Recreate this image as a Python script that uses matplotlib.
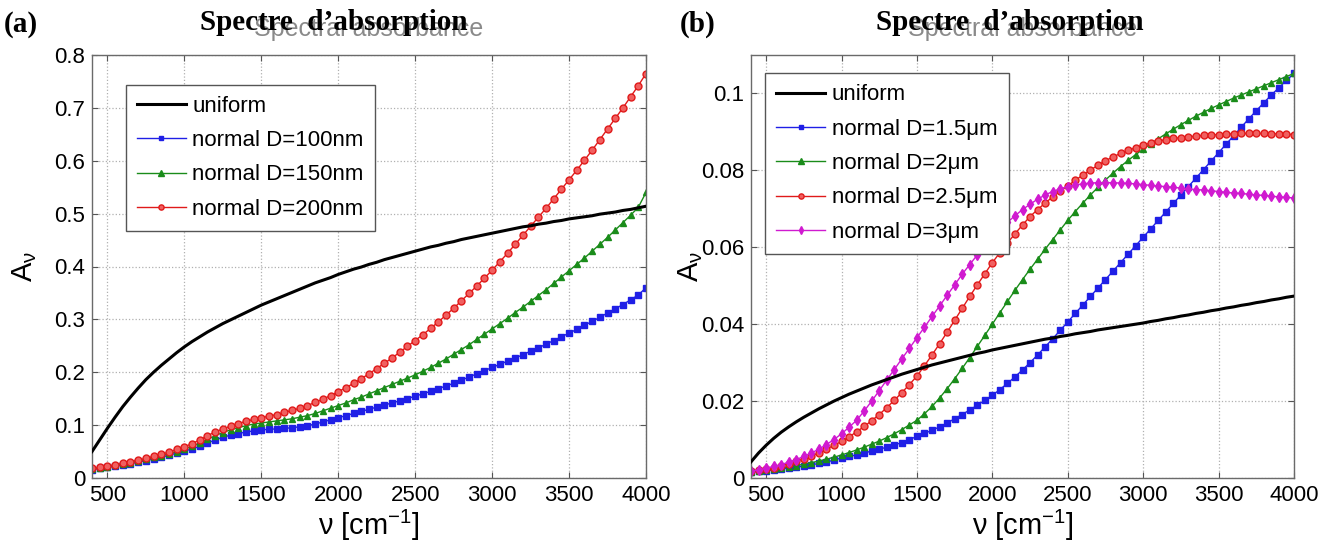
import matplotlib
matplotlib.use("Agg")
import matplotlib.pyplot as plt
import numpy as np

plt.rcParams['font.family'] = ['Liberation Sans', 'DejaVu Sans']
plt.rcParams['mathtext.fontset'] = 'custom'
plt.rcParams['mathtext.rm'] = 'Liberation Sans'
plt.rcParams['mathtext.it'] = 'Liberation Sans'

# ---------------- data ----------------
nu = list(range(400, 4001, 50))

# panel (a)
a_uniform = [0.050, 0.072, 0.094, 0.115, 0.135, 0.153, 0.170, 0.186, 0.200, 0.213,
             0.225, 0.237, 0.248, 0.258, 0.267, 0.276, 0.284, 0.292, 0.299, 0.306,
             0.313, 0.320, 0.327, 0.333, 0.339, 0.345, 0.351, 0.357, 0.363, 0.369,
             0.374, 0.379, 0.385, 0.390, 0.395, 0.399, 0.404, 0.408, 0.413, 0.417,
             0.421, 0.425, 0.429, 0.433, 0.437, 0.440, 0.444, 0.447, 0.451, 0.454,
             0.457, 0.460, 0.463, 0.466, 0.469, 0.472, 0.475, 0.477, 0.480, 0.482,
             0.485, 0.487, 0.490, 0.492, 0.494, 0.496, 0.499, 0.501, 0.503, 0.506,
             0.508, 0.511, 0.514]
a_d100 = [0.016, 0.018, 0.020, 0.022, 0.025, 0.027, 0.030, 0.033, 0.036, 0.039,
          0.043, 0.047, 0.051, 0.055, 0.060, 0.066, 0.072, 0.077, 0.081, 0.084,
          0.087, 0.089, 0.091, 0.092, 0.093, 0.094, 0.095, 0.097, 0.099, 0.102,
          0.106, 0.110, 0.114, 0.118, 0.122, 0.126, 0.130, 0.134, 0.138, 0.142,
          0.146, 0.150, 0.155, 0.159, 0.164, 0.169, 0.174, 0.179, 0.185, 0.191,
          0.197, 0.203, 0.209, 0.215, 0.221, 0.227, 0.233, 0.240, 0.246, 0.253,
          0.260, 0.267, 0.274, 0.281, 0.289, 0.296, 0.304, 0.312, 0.320, 0.328,
          0.337, 0.346, 0.360]
a_d150 = [0.017, 0.019, 0.021, 0.024, 0.026, 0.029, 0.032, 0.035, 0.039, 0.042,
          0.046, 0.050, 0.055, 0.060, 0.066, 0.073, 0.080, 0.086, 0.091, 0.095,
          0.099, 0.102, 0.104, 0.106, 0.108, 0.110, 0.112, 0.115, 0.118, 0.122,
          0.127, 0.132, 0.137, 0.142, 0.148, 0.153, 0.159, 0.165, 0.171, 0.177,
          0.183, 0.189, 0.195, 0.202, 0.209, 0.217, 0.225, 0.234, 0.243, 0.252,
          0.262, 0.272, 0.282, 0.292, 0.302, 0.313, 0.323, 0.334, 0.345, 0.356,
          0.368, 0.380, 0.392, 0.404, 0.416, 0.429, 0.442, 0.455, 0.469, 0.483,
          0.497, 0.512, 0.540]
a_d200 = [0.018, 0.020, 0.022, 0.025, 0.028, 0.031, 0.034, 0.037, 0.041, 0.045,
          0.049, 0.054, 0.059, 0.065, 0.072, 0.080, 0.087, 0.093, 0.098, 0.103,
          0.107, 0.111, 0.114, 0.117, 0.120, 0.124, 0.128, 0.132, 0.137, 0.143,
          0.149, 0.156, 0.163, 0.171, 0.179, 0.188, 0.197, 0.207, 0.217, 0.227,
          0.238, 0.249, 0.260, 0.271, 0.283, 0.295, 0.308, 0.321, 0.335, 0.349,
          0.363, 0.378, 0.393, 0.409, 0.425, 0.442, 0.459, 0.476, 0.493, 0.510,
          0.528, 0.546, 0.564, 0.582, 0.601, 0.620, 0.640, 0.660, 0.680, 0.700,
          0.721, 0.742, 0.765]

# panel (b)
b_uniform = [0.0042, 0.0065, 0.0085, 0.0103, 0.0119, 0.0133, 0.0146, 0.0158, 0.0169, 0.0180,
             0.0190, 0.0200, 0.0209, 0.0218, 0.0226, 0.0234, 0.0242, 0.0249, 0.0256, 0.0263,
             0.0270, 0.0276, 0.0282, 0.0288, 0.0294, 0.0299, 0.0304, 0.0309, 0.0314, 0.0319,
             0.0324, 0.0328, 0.0333, 0.0337, 0.0341, 0.0345, 0.0349, 0.0353, 0.0357, 0.0361,
             0.0364, 0.0368, 0.0371, 0.0375, 0.0378, 0.0381, 0.0385, 0.0388, 0.0391, 0.0394,
             0.0397, 0.0400, 0.0403, 0.0407, 0.0410, 0.0414, 0.0417, 0.0421, 0.0424, 0.0428,
             0.0431, 0.0435, 0.0438, 0.0442, 0.0445, 0.0449, 0.0452, 0.0456, 0.0459, 0.0463,
             0.0466, 0.0470, 0.0473]
b_d15 = [0.0015, 0.0017, 0.0019, 0.0021, 0.0023, 0.0026, 0.0028, 0.0031, 0.0034, 0.0038,
         0.0041, 0.0047, 0.0052, 0.0056, 0.0060, 0.0065, 0.0070, 0.0075, 0.0080, 0.0086,
         0.0092, 0.0100, 0.0108, 0.0116, 0.0124, 0.0133, 0.0143, 0.0154, 0.0165, 0.0177,
         0.0189, 0.0202, 0.0215, 0.0230, 0.0246, 0.0263, 0.0281, 0.0300, 0.0320, 0.0341,
         0.0362, 0.0384, 0.0406, 0.0428, 0.0450, 0.0472, 0.0494, 0.0516, 0.0538, 0.0560,
         0.0582, 0.0604, 0.0626, 0.0648, 0.0670, 0.0692, 0.0714, 0.0736, 0.0758, 0.0780,
         0.0802, 0.0824, 0.0846, 0.0868, 0.0890, 0.0912, 0.0934, 0.0955, 0.0976, 0.0996,
         0.1015, 0.1034, 0.1052]
b_d2 = [0.0016, 0.0018, 0.0020, 0.0023, 0.0026, 0.0029, 0.0032, 0.0036, 0.0040, 0.0044,
        0.0049, 0.0054, 0.0060, 0.0066, 0.0073, 0.0080, 0.0088, 0.0096, 0.0105, 0.0115,
        0.0126, 0.0138, 0.0150, 0.0167, 0.0186, 0.0208, 0.0232, 0.0258, 0.0285, 0.0313,
        0.0342, 0.0371, 0.0400, 0.0430, 0.0459, 0.0488, 0.0516, 0.0543, 0.0569, 0.0595,
        0.0620, 0.0645, 0.0670, 0.0693, 0.0715, 0.0736, 0.0756, 0.0775, 0.0793, 0.0810,
        0.0826, 0.0841, 0.0855, 0.0869, 0.0882, 0.0895, 0.0907, 0.0919, 0.0930, 0.0941,
        0.0951, 0.0961, 0.0970, 0.0979, 0.0988, 0.0996, 0.1004, 0.1012, 0.1020, 0.1028,
        0.1036, 0.1044, 0.1052]
b_d25 = [0.0017, 0.0020, 0.0023, 0.0027, 0.0032, 0.0037, 0.0043, 0.0050, 0.0057, 0.0066,
         0.0075, 0.0085, 0.0095, 0.0107, 0.0120, 0.0134, 0.0149, 0.0165, 0.0183, 0.0202,
         0.0222, 0.0243, 0.0265, 0.0292, 0.0320, 0.0349, 0.0379, 0.0410, 0.0441, 0.0472,
         0.0502, 0.0531, 0.0560, 0.0586, 0.0611, 0.0635, 0.0658, 0.0680, 0.0698, 0.0715,
         0.0731, 0.0746, 0.0760, 0.0774, 0.0788, 0.0801, 0.0813, 0.0825, 0.0835, 0.0844,
         0.0852, 0.0859, 0.0866, 0.0871, 0.0876, 0.0880, 0.0883, 0.0885, 0.0887, 0.0889,
         0.0891, 0.0892, 0.0893, 0.0894, 0.0895, 0.0896, 0.0896, 0.0896, 0.0896, 0.0895,
         0.0895, 0.0894, 0.0893]
b_d3 = [0.0018, 0.0021, 0.0025, 0.0030, 0.0035, 0.0041, 0.0048, 0.0056, 0.0065, 0.0075,
        0.0087, 0.0100, 0.0115, 0.0132, 0.0150, 0.0174, 0.0200, 0.0227, 0.0255, 0.0282,
        0.0310, 0.0337, 0.0365, 0.0392, 0.0420, 0.0447, 0.0475, 0.0502, 0.0530, 0.0555,
        0.0580, 0.0603, 0.0625, 0.0645, 0.0665, 0.0682, 0.0698, 0.0712, 0.0725, 0.0736,
        0.0745, 0.0752, 0.0758, 0.0762, 0.0765, 0.0767, 0.0768, 0.0768, 0.0768, 0.0767,
        0.0766, 0.0765, 0.0763, 0.0761, 0.0759, 0.0758, 0.0756, 0.0754, 0.0752, 0.0750,
        0.0749, 0.0747, 0.0745, 0.0743, 0.0741, 0.0740, 0.0738, 0.0736, 0.0735, 0.0733,
        0.0731, 0.0730, 0.0728]

xticks = [500, 1000, 1500, 2000, 2500, 3000, 3500, 4000]
a_yticks = [0, 0.1, 0.2, 0.3, 0.4, 0.5, 0.6, 0.7, 0.8]
a_yticklabels = ['0', '0.1', '0.2', '0.3', '0.4', '0.5', '0.6', '0.7', '0.8']
b_yticks = [0, 0.02, 0.04, 0.06, 0.08, 0.1]
b_yticklabels = ['0', '0.02', '0.04', '0.06', '0.08', '0.1']

a_labels = ['uniform', 'normal D=100nm', 'normal D=150nm', 'normal D=200nm']
b_labels = ['uniform', 'normal D=1.5\u03bcm', 'normal D=2\u03bcm', 'normal D=2.5\u03bcm', 'normal D=3\u03bcm']

# ---------------- figure ----------------
W, H = 1335, 547
fig = plt.figure(figsize=(W / 100, H / 100), dpi=100)

def px_ax(x0, x1, y0, y1):
    return fig.add_axes([x0 / W, 1 - y1 / H, (x1 - x0) / W, (y1 - y0) / H])

axA = px_ax(92, 646, 55, 478)
axB = px_ax(751, 1294, 55, 478)

blue = '#1f1fe6'
green = '#1a8c1a'
red = '#e01a1a'
mag = '#d01ad0'
ms = 4.6

def style(ax, yt, ytl, ymax):
    ax.set_xlim(400, 4000)
    ax.set_ylim(0, ymax)
    ax.set_xticks(xticks)
    ax.set_yticks(yt)
    ax.set_yticklabels(ytl)
    ax.tick_params(direction='in', top=True, right=True, labelsize=16,
                   length=4, color='#555555', pad=5)
    ax.grid(True, linestyle=':', color='#b0b0b0', linewidth=0.9)
    for s in ax.spines.values():
        s.set_color('#6a6a6a')
        s.set_linewidth(1.0)
    ax.set_xlabel('\u03bd [cm$^{-1}$]', fontsize=21, labelpad=1)
    ax.set_ylabel('A$_{\\nu}$', fontsize=21, labelpad=4)
    ax.set_title('Spectral absorbance', fontsize=18, color='#8a8a8a', pad=14)

# panel a
axA.plot(nu, a_uniform, color='black', lw=2.2, label=a_labels[0], zorder=3)
axA.plot(nu, a_d100, color=blue, lw=1.0, marker='s', ms=ms, mfc=blue, mec=blue, label=a_labels[1])
axA.plot(nu, a_d150, color=green, lw=1.0, marker='^', ms=ms + 0.4, mfc=green, mec=green, label=a_labels[2])
axA.plot(nu, a_d200, color=red, lw=1.0, marker='o', ms=ms + 0.4, mfc='#f06060', mec=red, label=a_labels[3])
style(axA, a_yticks, a_yticklabels, 0.8)
axA.yaxis.set_label_coords(-0.095, 0.5)

# panel b
axB.plot(nu, b_uniform, color='black', lw=2.2, label=b_labels[0], zorder=3)
axB.plot(nu, b_d15, color=blue, lw=1.0, marker='s', ms=ms, mfc=blue, mec=blue, label=b_labels[1])
axB.plot(nu, b_d2, color=green, lw=1.0, marker='^', ms=ms + 0.4, mfc=green, mec=green, label=b_labels[2])
axB.plot(nu, b_d25, color=red, lw=1.0, marker='o', ms=ms + 0.4, mfc='#f06060', mec=red, label=b_labels[3])
axB.plot(nu, b_d3, color=mag, lw=1.0, marker='d', ms=ms + 0.6, mfc=mag, mec=mag, label=b_labels[4])
style(axB, b_yticks, b_yticklabels, 0.11)
axB.yaxis.set_label_coords(-0.085, 0.5)

for ax, anchor in ((axA, (0.061, 0.93)), (axB, (0.026, 0.957))):
    leg = ax.legend(loc='upper left', bbox_to_anchor=anchor, fontsize=16,
                    handlelength=2.2, handletextpad=0.3, borderpad=0.5,
                    labelspacing=0.6, fancybox=False, framealpha=1,
                    borderaxespad=0.0,
                    edgecolor='#555555', markerscale=0.75)
    leg.get_frame().set_linewidth(1.0)
    for h in leg.legend_handles:
        h.set_markevery([1])

# overlaid headings
serif = ['Liberation Serif', 'DejaVu Serif']
fig.text(4 / W, 1 - 24 / H, '(a)', fontsize=21, fontweight='bold', family=serif, va='center', ha='left')
fig.text(334 / W, 1 - 22 / H, 'Spectre  d\u2019absorption', fontsize=21, fontweight='bold', family=serif,
         va='center', ha='center')
fig.text(680 / W, 1 - 24 / H, '(b)', fontsize=21, fontweight='bold', family=serif, va='center', ha='left')
fig.text(1010 / W, 1 - 22 / H, 'Spectre  d\u2019absorption', fontsize=21, fontweight='bold', family=serif,
         va='center', ha='center')

fig.savefig('out.png', dpi=100)
